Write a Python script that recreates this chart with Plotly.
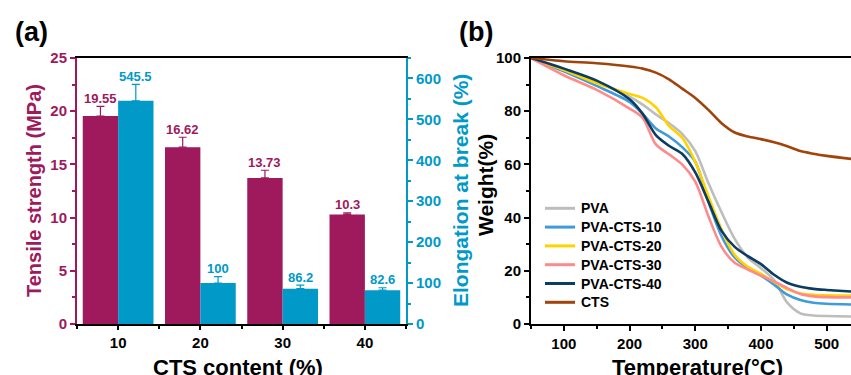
import plotly.graph_objects as go

# ---------------- Panel (a) data ----------------
cts_content = [10, 20, 30, 40]
tensile = [19.55, 16.62, 13.73, 10.3]
tensile_err = [0.9, 0.93, 0.72, 0.15]
elong = [545.5, 100, 86.2, 82.6]
elong_err = [40, 16, 9, 6]
tensile_labels = ["19.55", "16.62", "13.73", "10.3"]
elong_labels = ["545.5", "100", "86.2", "82.6"]

# ---------------- Panel (b) data ----------------
temp = [50, 100, 150, 200, 220, 240, 260, 280, 300, 320, 340, 360, 380, 400, 420, 440, 460, 480, 500, 540]
w_pva = [100, 96, 91, 85.5, 82.5, 78.8, 75.5, 71.5, 65, 53, 42, 32, 25, 21, 16.5, 8, 4, 3.2, 3, 2.8]
w_cts10 = [100, 95, 89.5, 83.5, 79, 73.5, 70.5, 66.5, 61, 46, 33, 25, 21, 18.2, 14.8, 11, 9, 8, 7.6, 7.3]
w_cts20 = [100, 95.5, 90.5, 86.5, 85, 81.5, 74.5, 70, 61, 48, 35.5, 26, 21.5, 18.8, 15.8, 13, 11.5, 11, 10.8, 10.7]
w_cts30 = [100, 93.5, 88, 81, 77.5, 67.5, 63.8, 60, 53.5, 40.5, 29, 23, 20.5, 18.2, 16, 13.5, 11.3, 10.4, 10.1, 10]
w_cts40 = [100, 96, 91.5, 84.5, 79, 71, 67, 64, 57, 46, 35, 29, 25.5, 22.5, 18.5, 15.5, 14, 13.2, 12.8, 12.2]
w_cts = [100, 98.8, 98, 96.8, 96, 94.5, 92, 88.5, 85, 80.5, 75.5, 72, 70.5, 69.5, 68.3, 66.8, 65, 64, 63.2, 62]
series_names = ["PVA", "PVA-CTS-10", "PVA-CTS-20", "PVA-CTS-30", "PVA-CTS-40", "CTS"]
series_vals = [w_pva, w_cts10, w_cts20, w_cts30, w_cts40, w_cts]
series_colors = ["#BDBDBD", "#3F9BDB", "#FFD200", "#FF8A8A", "#0B3C63", "#A0440C"]

MAG = "#9E1A5C"
CYA = "#0099C8"
FONT = "Arial, Liberation Sans, sans-serif"
W, H = 851, 375

def px_x(p):
    return p / W

def px_y(p):
    return (H - p) / H

fig = go.Figure()

BW = 4.3
fig.add_trace(go.Bar(
    x=cts_content, y=tensile, width=BW, offset=-BW,
    marker=dict(color=MAG, line=dict(width=0)),
    error_y=dict(type="data", array=tensile_err, arrayminus=[0] * 4, symmetric=False,
                 color=MAG, thickness=1.2, width=4),
    xaxis="x", yaxis="y", showlegend=False))
fig.add_trace(go.Bar(
    x=cts_content, y=elong, width=BW, offset=0,
    marker=dict(color=CYA, line=dict(width=0)),
    error_y=dict(type="data", array=elong_err, arrayminus=[0] * 4, symmetric=False,
                 color=CYA, thickness=1.2, width=4),
    xaxis="x", yaxis="y2", showlegend=False))

for name, vals, col in zip(series_names, series_vals, series_colors):
    fig.add_trace(go.Scatter(
        x=temp, y=vals, mode="lines", name=name, showlegend=False,
        line=dict(color=col, width=2.6, shape="spline", smoothing=0.8),
        xaxis="x2", yaxis="y3"))

annotations = []
for xv, yv, e, t in zip(cts_content, tensile, tensile_err, tensile_labels):
    annotations.append(dict(x=xv - BW / 2, y=yv + e, xref="x", yref="y", text=t,
                            showarrow=False, yanchor="middle", yshift=8,
                            font=dict(family=FONT, size=13, color=MAG, weight="bold")))
for xv, yv, e, t in zip(cts_content, elong, elong_err, elong_labels):
    annotations.append(dict(x=xv + BW / 2, y=yv + e, xref="x", yref="y2", text=t,
                            showarrow=False, yanchor="middle", yshift=8,
                            font=dict(family=FONT, size=13, color=CYA, weight="bold")))

def title_ann(text, x, y, color, angle=0, size=21):
    return dict(x=px_x(x), y=px_y(y), xref="paper", yref="paper", text=text, showarrow=False,
                textangle=angle, xanchor="center", yanchor="middle",
                font=dict(family=FONT, size=size, color=color, weight="bold"))

annotations += [
    title_ann("Tensile strength (MPa)", 34, 191, MAG, -90, 20),
    title_ann("Elongation at break (%)", 460, 191, CYA, -90, 21),
    title_ann("Weight(%)", 486, 185, "black", -90, 21),
    title_ann("CTS content (%)", 238, 367, "black", 0, 22),
    title_ann("Temperature(°C)", 697, 367, "black", 0, 22),
    title_ann("(a)", 31, 32, "black", 0, 27),
    title_ann("(b)", 476, 32, "black", 0, 27),
]

# Manual legend (panel b): swatch lines + text labels
shapes = []
LEG_Y0, LEG_DY = 208.3, 18.8
for i, (name, col) in enumerate(zip(series_names, series_colors)):
    yy = px_y(LEG_Y0 + i * LEG_DY)
    shapes.append(dict(type="line", xref="paper", yref="paper",
                       x0=px_x(545), x1=px_x(575), y0=yy, y1=yy,
                       line=dict(color=col, width=3)))
    annotations.append(dict(x=px_x(579), y=yy, xref="paper", yref="paper", text=name,
                            showarrow=False, xanchor="left", yanchor="middle",
                            font=dict(family=FONT, size=14, color="black", weight="bold")))

tick_font = dict(family=FONT, size=15, weight="bold")

fig.update_layout(
    width=W, height=H, autosize=False,
    margin=dict(l=0, r=0, t=0, b=0, autoexpand=False),
    paper_bgcolor="white", plot_bgcolor="white",
    barmode="overlay", showlegend=False,
    annotations=annotations, shapes=shapes,
    xaxis=dict(domain=[px_x(77), px_x(406)], range=[5, 45], anchor="y",
               tickvals=cts_content, ticks="outside", ticklen=4, tickwidth=1.5,
               tickcolor="black", showline=True, linecolor="black", linewidth=2,
               mirror=True, showgrid=False, zeroline=False, automargin=False,
               tickfont=dict(color="black", **tick_font),
               minor=dict(tickvals=[5, 15, 25, 35, 45], ticks="outside", ticklen=3,
                          tickcolor="black", tickwidth=1.5)),
    yaxis=dict(domain=[px_y(324), px_y(58)], range=[0, 25], anchor="x",
               tickvals=[0, 5, 10, 15, 20, 25], ticks="outside", ticklen=5, tickwidth=1.5,
               tickcolor=MAG, showline=True, linecolor=MAG, linewidth=2,
               showgrid=False, zeroline=False, automargin=False,
               tickfont=dict(color=MAG, **tick_font),
               minor=dict(dtick=2.5, ticks="outside", ticklen=3, tickcolor=MAG, tickwidth=1.5)),
    yaxis2=dict(overlaying="y", side="right", anchor="x", range=[0, 650],
                tickvals=[0, 100, 200, 300, 400, 500, 600], ticks="outside", ticklen=5,
                tickwidth=1.5, tickcolor=CYA, showline=True, linecolor=CYA, linewidth=2,
                showgrid=False, zeroline=False, automargin=False,
                tickfont=dict(color=CYA, **tick_font),
                minor=dict(dtick=50, ticks="outside", ticklen=3, tickcolor=CYA, tickwidth=1.5)),
    xaxis2=dict(domain=[px_x(531), 1.0], range=[50, 537], anchor="y3",
                tickvals=[100, 200, 300, 400, 500], ticks="outside", ticklen=5, tickwidth=1.5,
                tickcolor="black", showline=True, linecolor="black", linewidth=2,
                mirror=True, showgrid=False, zeroline=False, automargin=False,
                tickfont=dict(color="black", **tick_font),
                minor=dict(dtick=50, tick0=50, ticks="outside", ticklen=3, tickcolor="black", tickwidth=1.5)),
    yaxis3=dict(domain=[px_y(324), px_y(58)], range=[0, 100], anchor="x2",
                tickvals=[0, 20, 40, 60, 80, 100], ticks="outside", ticklen=5, tickwidth=1.5,
                tickcolor="black", showline=True, linecolor="black", linewidth=2,
                showgrid=False, zeroline=False, automargin=False,
                tickfont=dict(color="black", **tick_font),
                minor=dict(dtick=10, ticks="outside", ticklen=3, tickcolor="black", tickwidth=1.5)),
)

fig.write_html("out.html", config={"responsive": False, "displayModeBar": False},
               post_script="document.body.style.margin='0px';")
